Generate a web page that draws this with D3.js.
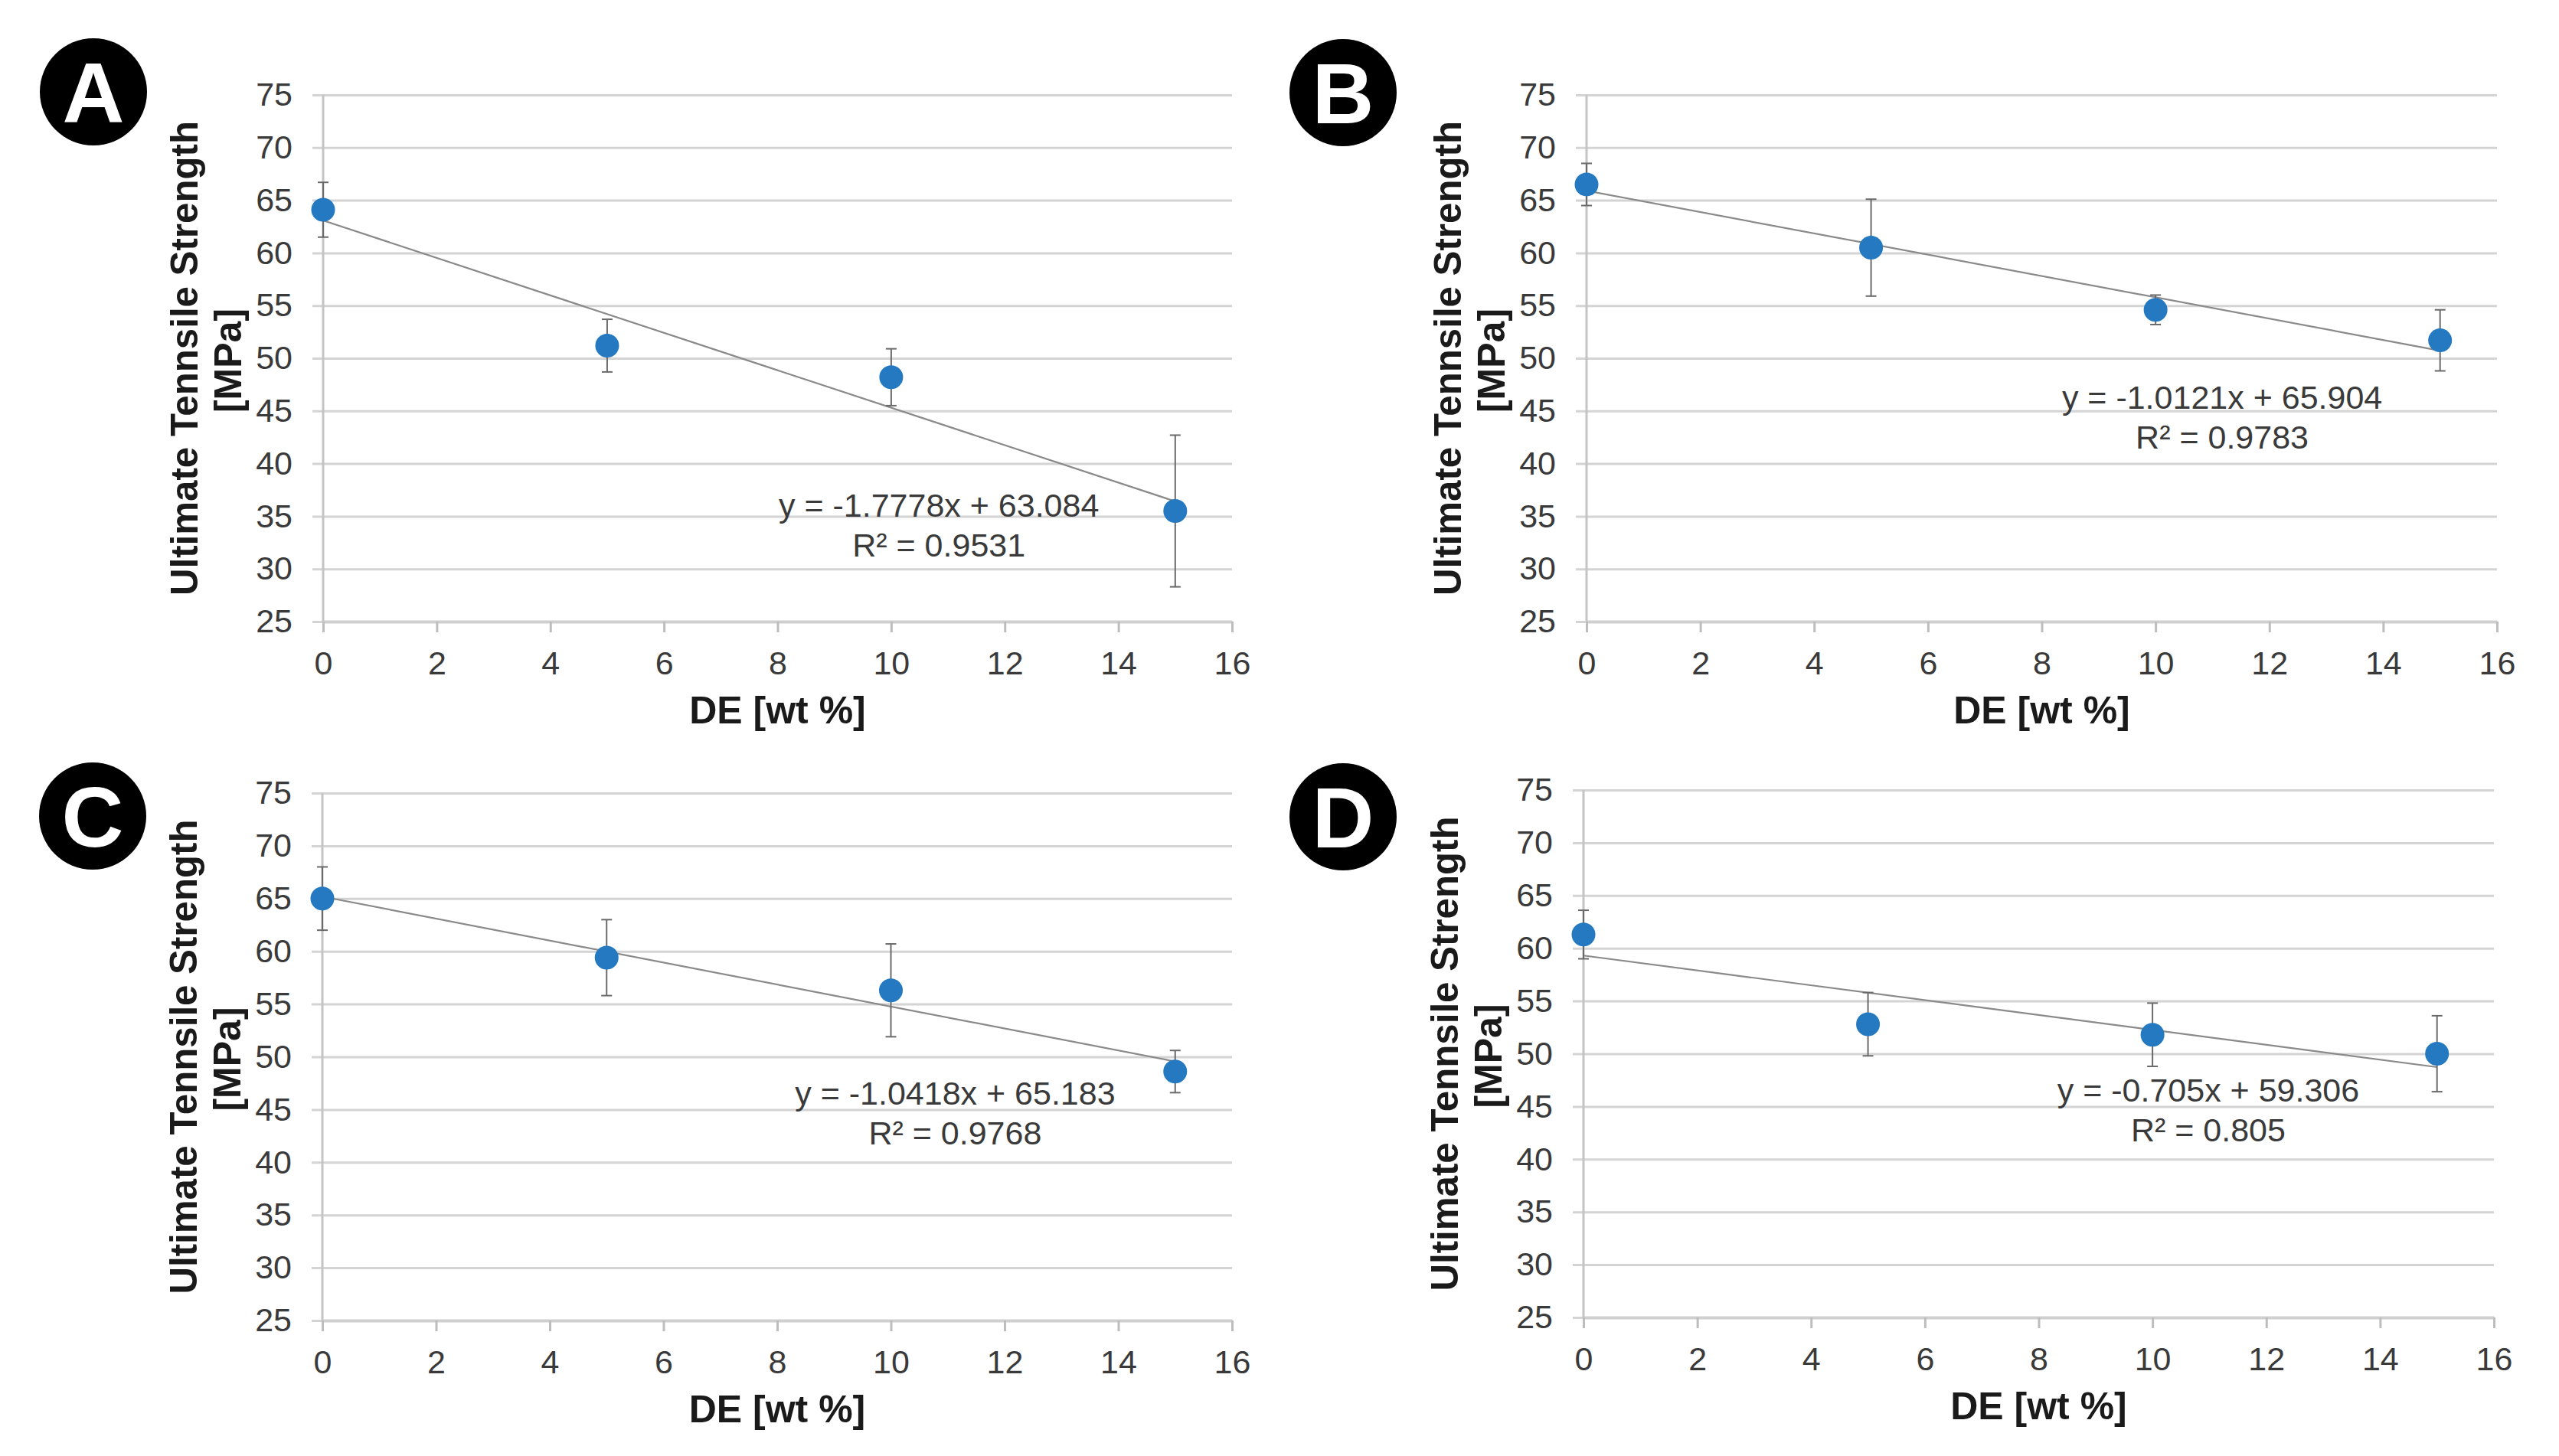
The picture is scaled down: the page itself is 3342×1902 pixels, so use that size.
<!DOCTYPE html>
<html>
<head>
<meta charset="utf-8">
<script src="https://cdn.jsdelivr.net/npm/d3@7"></script>
<style>
  html, body { margin: 0; padding: 0; background: #fff; }
  svg { display: block; font-family: "Liberation Sans", Arial, sans-serif; }
</style>
</head>
<body>
<svg width="3342" height="1902"></svg>
<script>
// wt % of DE
var xValues = [0, 5, 10, 15];
var xTicks = [0, 2, 4, 6, 8, 10, 12, 14, 16];
var yTicks = [25, 30, 35, 40, 45, 50, 55, 60, 65, 70, 75];

var panelLetters = ["A", "B", "C", "D"];

// mean tensile strength and error bar half-widths
var meansA = [64.1, 51.2, 48.2, 35.5];
var errA   = [2.6, 2.5, 2.7, 7.2];
var meansB = [66.5, 60.5, 54.6, 51.7];
var errB   = [2.0, 4.6, 1.4, 2.9];
var meansC = [65.0, 59.4, 56.3, 48.6];
var errC   = [3.0, 3.6, 4.4, 2.0];
var meansD = [61.3, 52.8, 51.8, 50.0];
var errD   = [2.3, 3.0, 3.0, 3.6];

// linear fits as printed
var slopes     = [-1.7778, -1.0121, -1.0418, -0.705];
var intercepts = [63.084, 65.904, 65.183, 59.306];
var r2Labels   = ["0.9531", "0.9783", "0.9768", "0.805"];

var means = [meansA, meansB, meansC, meansD];
var errs  = [errA, errB, errC, errD];

// where each panel sits on the page
var frames = [
  {x0: 422,  x1: 1609, y0: 124,  y1: 812,  cx: 122,  cy: 120,  eqX: 10.84, eqY: 34.96},
  {x0: 2072, x1: 3261, y0: 124,  y1: 812,  cx: 1754, cy: 121,  eqX: 11.17, eqY: 45.2},
  {x0: 421,  x1: 1609, y0: 1036, y1: 1725, cx: 121,  cy: 1066, eqX: 11.13, eqY: 45.5},
  {x0: 2068, x1: 3257, y0: 1032, y1: 1721, cx: 1754, cy: 1067, eqX: 10.98, eqY: 45.5}
];

var svg = d3.select("svg");
svg.append("rect").attr("width", 3342).attr("height", 1902).attr("fill", "#fff");

function fmtEq(m, b) {
  return "y = " + m + "x + " + b;
}

frames.forEach(function(f, i) {
  var x = d3.scaleLinear().domain([0, 16]).range([f.x0, f.x1]);
  var y = d3.scaleLinear().domain([25, 75]).range([f.y1, f.y0]);
  var g = svg.append("g");

  // gridlines + y tick labels
  var ya = g.append("g")
    .attr("transform", "translate(" + f.x0 + ",0)")
    .call(d3.axisLeft(y).tickValues(yTicks).tickSize(-(f.x1 - f.x0)).tickPadding(40));
  ya.select(".domain").remove();
  ya.selectAll(".tick line").attr("x1", -14).attr("stroke", "#d4d4d4").attr("stroke-width", 3);
  ya.selectAll(".tick text").attr("font-size", 43).attr("fill", "#3a3a3a")
    .attr("font-family", "Liberation Sans, Arial, sans-serif");

  // vertical axis line
  g.append("line")
    .attr("x1", f.x0).attr("x2", f.x0)
    .attr("y1", f.y0).attr("y2", f.y1)
    .attr("stroke", "#c4c4c4").attr("stroke-width", 3);

  // x axis
  var xa = g.append("g")
    .attr("transform", "translate(0," + f.y1 + ")")
    .call(d3.axisBottom(x).tickValues(xTicks).tickSize(14).tickSizeOuter(0).tickPadding(24));
  xa.select(".domain").attr("stroke", "#cfcfcf").attr("stroke-width", 4);
  xa.selectAll(".tick line").attr("stroke", "#bdbdbd").attr("stroke-width", 3);
  xa.selectAll(".tick text").attr("font-size", 43).attr("fill", "#3a3a3a")
    .attr("font-family", "Liberation Sans, Arial, sans-serif");

  // trend line
  g.append("line")
    .attr("x1", x(0)).attr("y1", y(intercepts[i]))
    .attr("x2", x(15)).attr("y2", y(intercepts[i] + slopes[i] * 15))
    .attr("stroke", "#8a8a8a").attr("stroke-width", 2.2);

  var pts = xValues.map(function(v, j) { return {x: v, m: means[i][j], e: errs[i][j]}; });

  // error bars
  var eb = g.selectAll(".eb").data(pts).enter().append("g")
    .attr("stroke", "#6a6a6a").attr("stroke-width", 2);
  eb.append("line")
    .attr("x1", function(d) { return x(d.x); }).attr("x2", function(d) { return x(d.x); })
    .attr("y1", function(d) { return y(d.m + d.e); }).attr("y2", function(d) { return y(d.m - d.e); });
  eb.append("line")
    .attr("x1", function(d) { return x(d.x) - 7; }).attr("x2", function(d) { return x(d.x) + 7; })
    .attr("y1", function(d) { return y(d.m + d.e); }).attr("y2", function(d) { return y(d.m + d.e); });
  eb.append("line")
    .attr("x1", function(d) { return x(d.x) - 7; }).attr("x2", function(d) { return x(d.x) + 7; })
    .attr("y1", function(d) { return y(d.m - d.e); }).attr("y2", function(d) { return y(d.m - d.e); });

  // markers
  g.selectAll("circle.pt").data(pts).enter().append("circle")
    .attr("class", "pt")
    .attr("cx", function(d) { return x(d.x); })
    .attr("cy", function(d) { return y(d.m); })
    .attr("r", 15.5)
    .attr("fill", "#2479c0");

  // equation
  var ex = x(f.eqX), ey = y(f.eqY);
  g.append("text").attr("x", ex).attr("y", ey)
    .attr("text-anchor", "middle").attr("font-size", 43).attr("fill", "#3a3a3a")
    .text(fmtEq(slopes[i], intercepts[i]));
  g.append("text").attr("x", ex).attr("y", ey + 52)
    .attr("text-anchor", "middle").attr("font-size", 43).attr("fill", "#3a3a3a")
    .text("R\u00B2 = " + r2Labels[i]);

  // axis titles
  var midY = (f.y0 + f.y1) / 2;
  g.append("text")
    .attr("transform", "translate(" + (f.x0 - 164) + "," + midY + ") rotate(-90)")
    .attr("text-anchor", "middle").attr("font-size", 50).attr("font-weight", "bold")
    .attr("fill", "#1a1a1a")
    .attr("textLength", 620).attr("lengthAdjust", "spacingAndGlyphs")
    .text("Ultimate Tennsile Strength");
  g.append("text")
    .attr("transform", "translate(" + (f.x0 - 107) + "," + (midY + 3) + ") rotate(-90)")
    .attr("text-anchor", "middle").attr("font-size", 50).attr("font-weight", "bold")
    .attr("fill", "#1a1a1a")
    .text("[MPa]");
  g.append("text")
    .attr("x", (f.x0 + f.x1) / 2).attr("y", f.y1 + 133)
    .attr("text-anchor", "middle").attr("font-size", 50).attr("font-weight", "bold")
    .attr("fill", "#1a1a1a")
    .text("DE [wt %]");

  // panel letter badge
  g.append("circle").attr("cx", f.cx).attr("cy", f.cy).attr("r", 70).attr("fill", "#000");
  g.append("text").attr("x", f.cx).attr("y", f.cy + 40)
    .attr("text-anchor", "middle").attr("font-size", 112).attr("font-weight", "bold")
    .attr("fill", "#fff")
    .text(panelLetters[i]);
});
</script>
</body>
</html>
